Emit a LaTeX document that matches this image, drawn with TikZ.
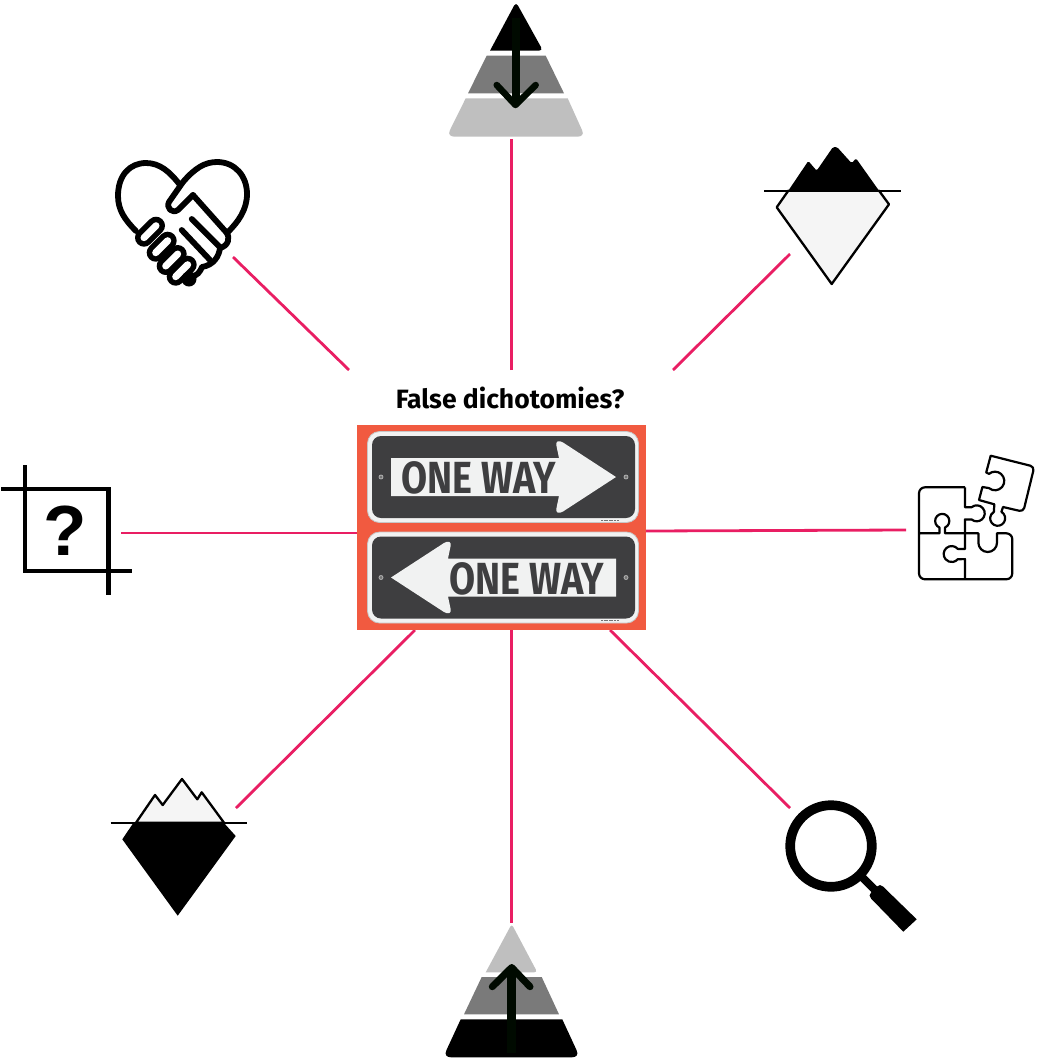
\documentclass[tikz,border=0pt]{standalone}
\usepackage{fontspec}
\usetikzlibrary{positioning}
\setmainfont{Liberation Sans}
\newfontfamily\titlefont{Fira Sans}
\newfontfamily\signfont[FakeStretch=0.84]{Fira Sans}
\definecolor{linkpink}{RGB}{233,30,99}
\definecolor{signred}{RGB}{241,90,64}
\definecolor{signdark}{RGB}{62,62,64}
\definecolor{signlight}{RGB}{241,242,242}
\definecolor{pyrlight}{RGB}{191,191,191}
\definecolor{pyrmid}{RGB}{122,122,122}
\definecolor{icepale}{RGB}{245,245,245}
\tikzset{
  link line/.style={draw=linkpink, line width=2.8pt},
  sign plate/.style={
    rectangle, rounded corners=12pt, draw=black!22, line width=.8pt,
    fill=signlight, minimum width=271pt, minimum height=91pt, inner sep=0pt
  },
  sign face/.style={
    rectangle, rounded corners=9pt, fill=signdark,
    minimum width=263pt, minimum height=82pt, inner sep=0pt
  },
  sign text/.style={font=\signfont\bfseries\fontsize{45}{45}\selectfont, text=signdark, inner sep=0pt},
  sign hole/.style={circle, draw=black!30, fill=black!55, line width=.8pt, minimum size=4pt, inner sep=0pt},
  hand line/.style={draw=black, line width=5.8pt, line cap=round, line join=round},
  ice line/.style={draw=black, line width=2.3pt, line join=round},
  puzzle line/.style={draw=black, line width=2.2pt, line join=round},
  crop line/.style={draw=black, line width=4.4pt},
  pyr arrow/.style={draw=black!96!green, line width=6.5pt, line cap=round, line join=round}
}
\begin{document}
\begin{tikzpicture}[x=1pt,y=-1pt]
  \useasboundingbox (0,0) rectangle (1037,1061);

  \coordinate (handend) at (233,257);
  \coordinate (handstart) at (349,370);
  \coordinate (pyrtopend) at (511.3,139);
  \coordinate (pyrtopstart) at (511.3,370);
  \coordinate (icetopend) at (790,254);
  \coordinate (icetopstart) at (673,370);
  \coordinate (cropend) at (121,533);
  \coordinate (cropstart) at (357,533);
  \coordinate (puzzleend) at (906,530);
  \coordinate (puzzlestart) at (646,531);
  \coordinate (icelowend) at (236,808);
  \coordinate (icelowstart) at (415,630);
  \coordinate (pyrlowend) at (511.3,923);
  \coordinate (pyrlowstart) at (511.3,630);
  \coordinate (lensend) at (790,808);
  \coordinate (lensstart) at (610,630);

  \foreach \linkfrom/\linkto in {handstart/handend, pyrtopstart/pyrtopend, icetopstart/icetopend, cropstart/cropend, puzzlestart/puzzleend, icelowstart/icelowend, pyrlowstart/pyrlowend, lensstart/lensend}
    \draw[link line] (\linkfrom) -- (\linkto);

  \node[font=\titlefont\bfseries\fontsize{26.5}{26.5}\selectfont, inner sep=0pt] (title) at (510,398) {False dichotomies?};

  \node[rectangle, fill=signred, minimum width=289pt, minimum height=205pt, inner sep=0pt] (signs) at (501.5,527.5) {};
  \foreach \signname/\signy in {upper/477, lower/577.5} {
    \node[sign plate] (plate\signname) at (503,\signy) {};
    \node[sign face] (face\signname) at (503.5,\signy) {};
    \node[sign hole] (holeleft\signname) at (381,\signy) {};
    \node[sign hole] (holeright\signname) at (626,\signy) {};
  }
  \fill[signlight] (391,458) -- (559,458) -- (556.5,446) .. controls (555,441) and (559,440) .. (563,442.5) -- (616,477) -- (563,511.5) .. controls (559,514) and (555,513) .. (556.5,508) -- (559,496) -- (391,496) -- cycle;
  \fill[signlight] (616,558.5) -- (448,558.5) -- (450.5,546.5) .. controls (452,541.5) and (448,540.5) .. (444,543) -- (391,577.5) -- (444,612) .. controls (448,614.5) and (452,613.5) .. (450.5,608.5) -- (448,596.5) -- (616,596.5) -- cycle;
  \node[sign text] (waytop) at (479,477.5) {ONE WAY};
  \node[sign text] (waylow) at (527,578.5) {ONE WAY};
  \draw[black!55, line width=1.5pt, dash pattern=on 2pt off .6pt] (601,520.5) -- (619,520.5);
  \draw[black!55, line width=1.5pt, dash pattern=on 2pt off .6pt] (601,620.5) -- (619,620.5);

  \fill[black, rounded corners=4pt] (490,50.7) -- (516,2) -- (543,50.7) [sharp corners] -- cycle;
  \fill[pyrmid] (486.7,55.7) -- (545.7,55.7) -- (564,93.3) -- (468,93.3) -- cycle;
  \fill[pyrlight] (465.7,98.3) -- (567.7,98.3) -- (582,130) .. controls (584.5,135) and (581,136.7) .. (577,136.7) -- (455,136.7) .. controls (451,136.7) and (447.5,135) .. (450,130) -- cycle;
  \draw[pyr arrow, line width=8pt, line cap=butt] (516,18) -- (516,104);
  \draw[pyr arrow] (496.7,85) -- (515.5,105) -- (535.7,85);

  \fill[pyrlight, rounded corners=3pt] (485.7,972.3) -- (511.7,924) -- (537.3,972.3) [sharp corners] -- cycle;
  \fill[pyrmid] (481.7,977) -- (541.7,977) -- (559,1014.3) -- (464,1014.3) -- cycle;
  \fill[black] (460.7,1019.3) -- (562.3,1019.3) -- (576.5,1050) .. controls (579,1055) and (576,1057.3) .. (572,1057.3) -- (451,1057.3) .. controls (447,1057.3) and (444,1055) .. (446.5,1050) -- cycle;
  \draw[pyr arrow, line width=9pt, line cap=butt] (511.7,968) -- (511.7,1053);
  \draw[pyr arrow, line width=7pt] (492.3,986.7) -- (511.7,967.5) -- (530,986.7);

  \draw[hand line] (136,231) .. controls (125,220) and (118,210) .. (118,196) .. controls (118,175) and (130,163) .. (146,163) .. controls (160,163) and (170,172) .. (180,185);
  \draw[hand line] (193,195) -- (178,210) .. controls (172,214) and (166,208) .. (169,202) -- (183,182) .. controls (195,168) and (205,162) .. (217,162) .. controls (235,162) and (247,176) .. (247,194) .. controls (247,210) and (238,222) .. (228,232);
  \draw[hand line] (193,195) -- (226,232) .. controls (231,238) and (228,246) .. (220,248) .. controls (219,256) and (214,265) .. (202,267) .. controls (200,272) and (197,276) .. (192,276);
  \draw[hand line] (191.7,219) -- (220.7,248);
  \draw[hand line] (181.7,230) -- (210,260);
  \foreach \fingerx/\fingery in {150/231.7, 161.7/246.7, 171.7/260, 181.7/270.7}
    \draw[black, line width=18pt, line cap=round] (\fingerx-6,\fingery+6) -- (\fingerx+6,\fingery-6);
  \foreach \fingerx/\fingery in {150/231.7, 161.7/246.7, 171.7/260, 181.7/270.7}
    \draw[white, line width=7pt, line cap=round] (\fingerx-6,\fingery+6) -- (\fingerx+6,\fingery-6);
  \fill[black] (189,279) circle[radius=7.5pt];

  \draw[ice line, fill=icepale] (788.3,190.7) -- (776.7,207.3) -- (831.7,284) -- (889,204.3) -- (879,190.7) -- cycle;
  \fill[black, rounded corners=1.5pt] (788.3,190.7) -- (808.3,161) -- (816.7,170.7) -- (833,147) -- (837,147) -- (851.7,163.3) -- (856,158.3) -- (879,190.7) -- cycle;
  \draw[ice line] (764.3,190.7) -- (901,190.7);

  \draw[ice line, fill=icepale] (136,822.7) -- (155,795) -- (162.7,805) -- (182,779) -- (197.3,799.3) -- (201.7,792.3) -- (224,822.7) -- cycle;
  \fill[black] (133.3,823) -- (122.3,839.3) -- (177.7,915.7) -- (235.7,836) -- (224,823) -- cycle;
  \draw[ice line] (110.7,822.7) -- (246.7,822.7);

  \draw[crop line] (1,489) -- (108.3,489) -- (108.3,595);
  \draw[crop line] (25,465) -- (25,571) -- (131.7,571);
  \node[font=\bfseries\fontsize{71}{71}\selectfont, inner sep=0pt] (askmark) at (65,531) {?};

  \draw[puzzle line, rounded corners=6pt] (965,487.3) -- (919,487.3) -- (919,579.3) -- (1012.3,579.3) -- (1012.3,533.3) [sharp corners] -- (997,533.3) -- (997,542.7) arc[start angle=0, end angle=180, radius=9.3] -- (978.4,533.3) -- (945,533.3) -- (945,527.5) arc[start angle=67, end angle=-247, radius=7.1] -- (939.4,533.3) -- (919,533.3);
  \draw[puzzle line] (965,487.3) -- (965,507.2) -- (971.6,507.2) arc[start angle=-130, end angle=130, radius=8] -- (965,519.4) -- (965,548.9) -- (957.8,548.9) arc[start angle=-40, end angle=-320, radius=8] -- (965,559.1) -- (965,579.3);
  \draw[puzzle line, rounded corners=4pt] (990.7,455.7) -- (1034.3,466.7) -- (1023.3,511.7) [sharp corners] -- (1003,507) -- (1001.4,511.8) arc[start angle=-60, end angle=240, radius=7.5] -- (994.3,504.3) -- (979,500) -- (982.4,487) -- (989,488.1) arc[start angle=130, end angle=-130, radius=9.3] -- (986.2,472.5) -- cycle;

  \draw[black, line width=9.7pt] (831,846) circle[radius=40.8pt];
  \draw[black, line width=8pt] (862.3,877.3) -- (878,893);
  \fill[black] (883,886.5) .. controls (881,884.5) and (879,884.5) .. (877,886.5) -- (871,892.5) .. controls (869,894.5) and (869,896.5) .. (871,898.5) -- (903.3,931.7) -- (916.7,919.3) -- cycle;
\end{tikzpicture}
\end{document}
